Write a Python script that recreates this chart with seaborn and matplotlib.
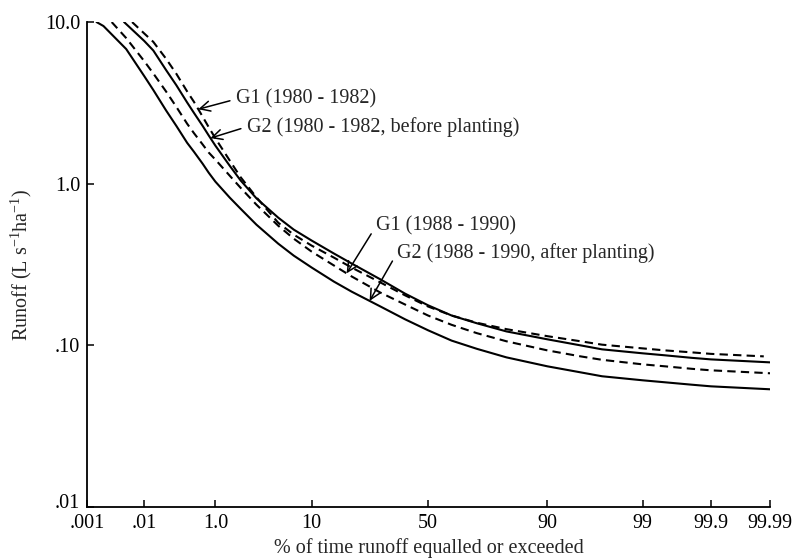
import numpy as np
import pandas as pd
import matplotlib
matplotlib.use("Agg")
import matplotlib.pyplot as plt
from matplotlib.ticker import NullLocator
from matplotlib.transforms import ScaledTranslation
import seaborn as sns
from statistics import NormalDist

# x ticks of the printed probability axis (% of time)
tick_pct = [0.001, 0.01, 1.0, 10, 50, 90, 99, 99.9, 99.99]
tick_lbl = [".001", ".01", "1.0", "10", "50", "90", "99", "99.9", "99.99"]
y_ticks = [0.01, 0.1, 1.0, 10.0]
y_lbl = [".01", ".10", "1.0", "10.0"]

# G1 (1980 - 1982), dashed
pct_g1_80 = [0.0063, 0.01, 0.02, 0.05, 0.1, 0.2, 0.3, 0.5, 0.7, 1, 1.5, 2, 3, 5, 7, 10, 15, 20, 30, 40,
             50, 60, 70, 80, 90, 95, 97, 99, 99.5, 99.8, 99.9, 99.987]
run_g1_80 = [10.0, 8.51, 7.54, 5.93, 4.79, 3.72, 3.22, 2.60, 2.24, 1.91, 1.39, 1.10, 0.824, 0.574, 0.484,
             0.414, 0.349, 0.303, 0.245, 0.204, 0.174, 0.153, 0.138, 0.126, 0.114, 0.106, 0.101, 0.0958,
             0.0931, 0.0905, 0.0886, 0.0855]
# G2 (1980 - 1982, before planting), solid
pct_g2_80 = [0.0046, 0.01, 0.02, 0.05, 0.1, 0.2, 0.3, 0.5, 0.7, 1, 1.5, 2, 3, 5, 7, 10, 15, 20, 30, 40,
             50, 60, 70, 80, 90, 95, 97, 99, 99.5, 99.8, 99.9, 99.99]
run_g2_80 = [10.0, 7.65, 6.67, 5.05, 4.07, 3.18, 2.75, 2.28, 1.99, 1.72, 1.29, 1.05, 0.812, 0.617, 0.520,
             0.445, 0.370, 0.321, 0.256, 0.209, 0.177, 0.153, 0.137, 0.122, 0.109, 0.100, 0.0945, 0.0893,
             0.0868, 0.0837, 0.0819, 0.0785]
# G1 (1988 - 1990), dashed
pct_g1_88 = [0.0028, 0.005, 0.01, 0.02, 0.05, 0.1, 0.2, 0.3, 0.5, 0.7, 1, 1.5, 2, 3, 5, 7, 10, 15, 20, 30,
             40, 50, 60, 70, 80, 90, 95, 97, 99, 99.5, 99.8, 99.9, 99.99]
run_g1_88 = [10.0, 7.96, 5.74, 4.81, 3.72, 2.99, 2.35, 2.06, 1.75, 1.56, 1.41, 1.12, 0.945, 0.742, 0.550,
             0.457, 0.380, 0.312, 0.267, 0.212, 0.179, 0.153, 0.134, 0.119, 0.106, 0.0931, 0.0855, 0.0814,
             0.0763, 0.0742, 0.0716, 0.0701, 0.0672]
# G2 (1988 - 1990, after planting), solid
pct_g2_88 = [0.0015, 0.002, 0.005, 0.01, 0.02, 0.05, 0.1, 0.2, 0.3, 0.5, 0.7, 1, 1.5, 2, 3, 5, 7, 10, 15,
             20, 30, 40, 50, 60, 70, 80, 90, 95, 97, 99, 99.5, 99.8, 99.9, 99.99]
run_g2_88 = [10.0, 9.45, 6.81, 4.64, 3.80, 2.84, 2.28, 1.79, 1.58, 1.33, 1.17, 1.03, 0.820, 0.701, 0.558,
             0.426, 0.359, 0.303, 0.248, 0.215, 0.174, 0.145, 0.124, 0.107, 0.0952, 0.0843, 0.0742, 0.0681,
             0.0644, 0.0608, 0.0591, 0.0571, 0.0558, 0.0535]

names = ["G1 (1980 - 1982)", "G2 (1980 - 1982, before planting)",
         "G1 (1988 - 1990)", "G2 (1988 - 1990, after planting)"]

# the printed axis is a normal-probability axis, but not evenly drawn: spacing between ticks
tick_space = [0, 57, 128, 224, 340, 459, 554, 622, 681]

nd = NormalDist()
_inv = np.vectorize(nd.inv_cdf, otypes=[float])
_cdf = np.vectorize(nd.cdf, otypes=[float])

Z = _inv(np.array(tick_pct) / 100)
s0 = (tick_space[1] - tick_space[0]) / (Z[1] - Z[0])
s1 = (tick_space[-1] - tick_space[-2]) / (Z[-1] - Z[-2])
Z_ext = np.concatenate([[Z[0] - 10], Z, [Z[-1] + 10]])
P_ext = np.concatenate([[tick_space[0] - 10 * s0], tick_space, [tick_space[-1] + 10 * s1]])


def fwd(x):
    x = np.clip(np.asarray(x, dtype=float), 1e-10, 100 - 1e-10)
    return np.interp(_inv(x / 100), Z_ext, P_ext)


def inv(t):
    z = np.interp(np.asarray(t, dtype=float), P_ext, Z_ext)
    return _cdf(z) * 100


def on_curve(pct, vals, x):
    return 10 ** np.interp(fwd(x), fwd(pct), np.log10(vals))


sns.set_style("ticks")
plt.rcParams["font.family"] = ["Liberation Serif", "DejaVu Serif"]
plt.rcParams["mathtext.fontset"] = "custom"
plt.rcParams["mathtext.rm"] = "Liberation Serif"
plt.rcParams["mathtext.default"] = "regular"
fs = 14.5

df = pd.concat([
    pd.DataFrame({"pct": pct_g1_80, "runoff": run_g1_80, "series": names[0]}),
    pd.DataFrame({"pct": pct_g2_80, "runoff": run_g2_80, "series": names[1]}),
    pd.DataFrame({"pct": pct_g1_88, "runoff": run_g1_88, "series": names[2]}),
    pd.DataFrame({"pct": pct_g2_88, "runoff": run_g2_88, "series": names[3]}),
], ignore_index=True)

fig = plt.figure(figsize=(7.98, 5.6), dpi=100)
ax = fig.add_axes([0.109, 0.0946, 0.856, 0.866])

sns.lineplot(data=df, x="pct", y="runoff", hue="series", style="series",
             palette={n: "black" for n in names},
             dashes={names[0]: (4, 2.5), names[1]: "", names[2]: (4, 2.5), names[3]: ""},
             sort=False, estimator=None, linewidth=1.5, legend=False, ax=ax)

ax.set_xscale("function", functions=(fwd, inv))
ax.set_yscale("log")
ax.set_xlim(0.001, 99.99)
ax.set_ylim(0.01, 10)
ax.set_xticks(tick_pct, tick_lbl)
ax.set_yticks(y_ticks, y_lbl)
ax.xaxis.set_minor_locator(NullLocator())
ax.yaxis.set_minor_locator(NullLocator())
ax.tick_params(direction="in", length=5, width=1.1, labelsize=fs, pad=5, colors="black")
for sp in ax.spines.values():
    sp.set_linewidth(1.3)
    sp.set_color("black")
sns.despine(ax=ax)
# lift the lowest y label a little so it clears the first x label
low = ax.get_yticklabels()[0]
low.set_transform(low.get_transform() + ScaledTranslation(0, 4 / 72, fig.dpi_scale_trans))

ax.set_xlabel("% of time runoff equalled or exceeded", fontsize=fs, labelpad=4)
ax.set_ylabel(r"Runoff (L s$^{-1}$ha$^{-1}$)", fontsize=fs, labelpad=8)

arrow = dict(arrowstyle="->, head_length=0.5, head_width=0.25", color="black", lw=1.1,
             shrinkA=2, shrinkB=0, relpos=(0, 0.5))
notes = [
    (names[0], pct_g1_80, run_g1_80, 0.39, (0.218, 0.841)),
    (names[1], pct_g2_80, run_g2_80, 0.77, (0.234, 0.784)),
    (names[2], pct_g1_88, run_g1_88, 18.5, (0.423, 0.579)),
    (names[3], pct_g2_88, run_g2_88, 26.0, (0.454, 0.524)),
]
for text, px, py, xp, pos in notes:
    ax.annotate(text, xy=(xp, on_curve(px, py, xp)), xycoords="data",
                xytext=pos, textcoords="axes fraction", ha="left", va="center",
                fontsize=fs, arrowprops=arrow)

fig.savefig("out.png", dpi=100)
